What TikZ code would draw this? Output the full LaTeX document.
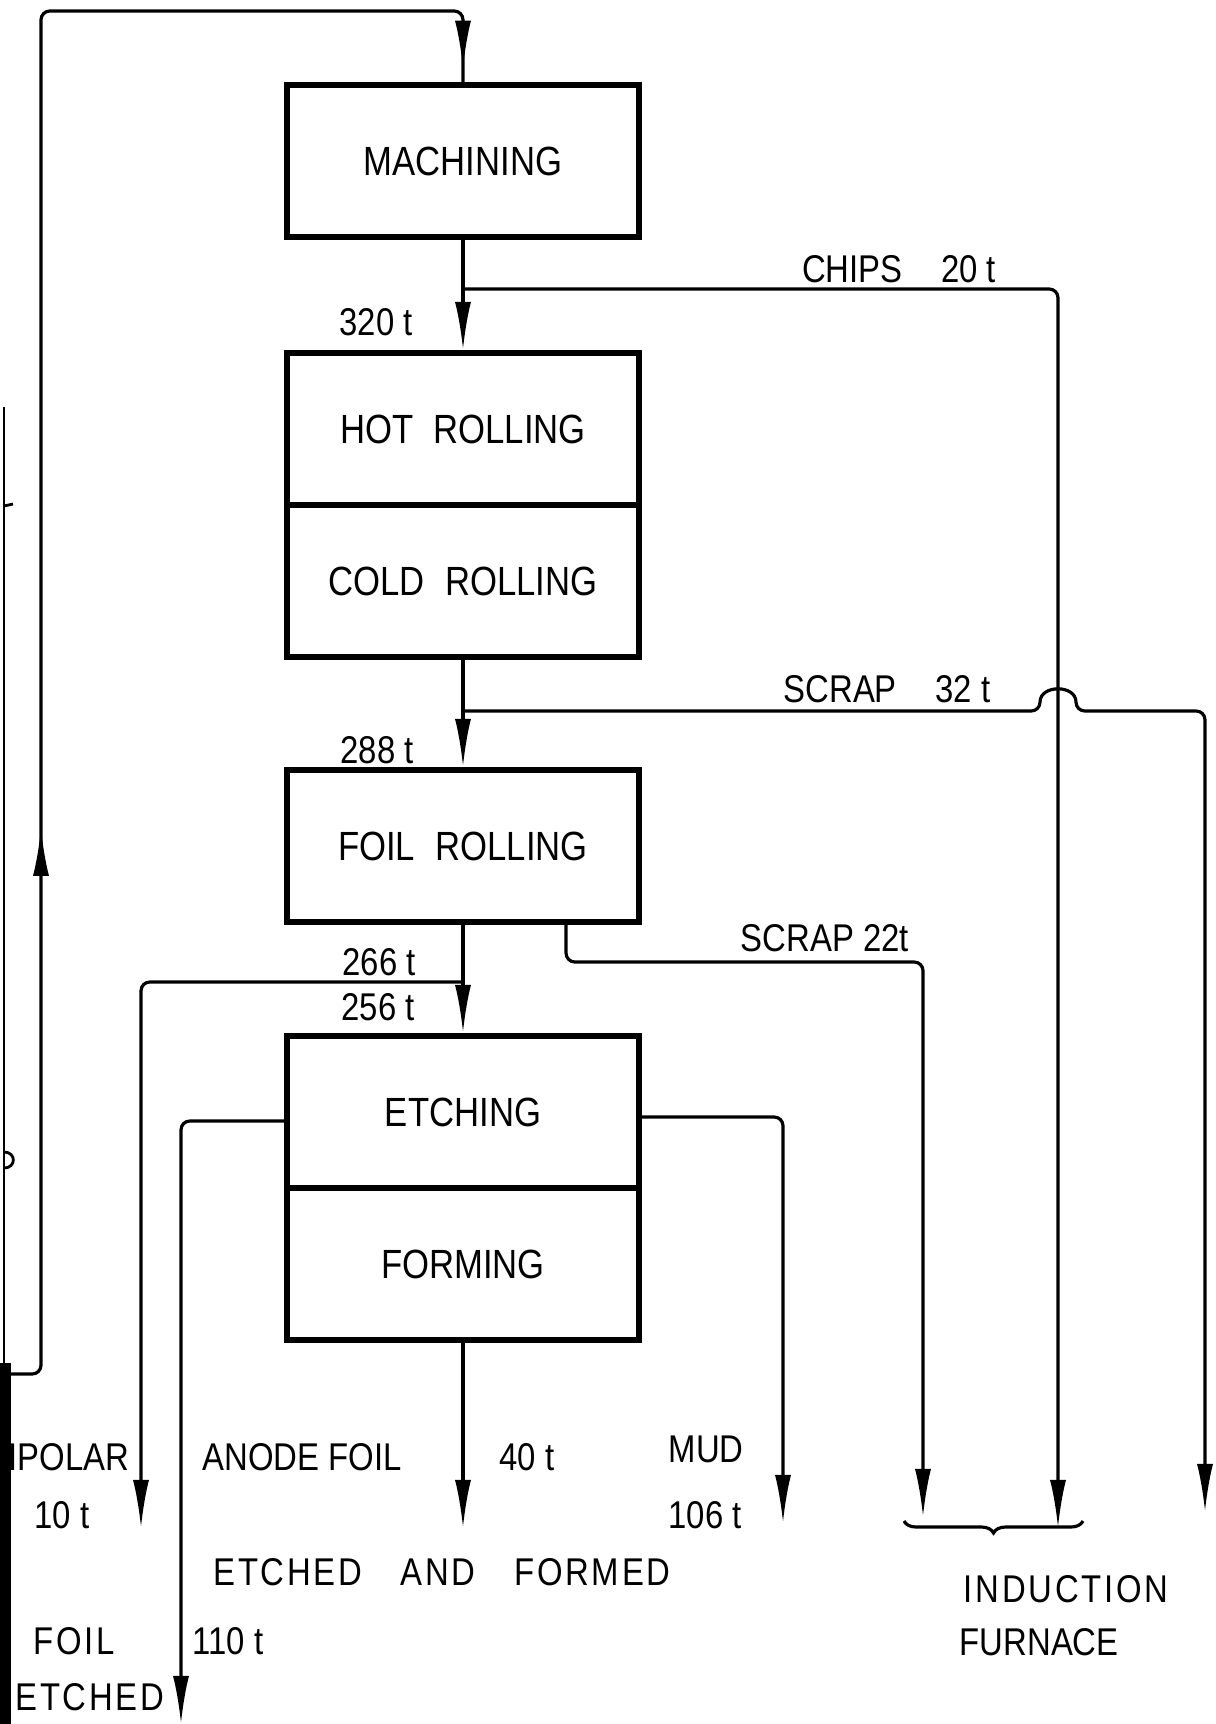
\documentclass[tikz,border=0pt]{standalone}
\usepackage{fontspec}
\setmainfont{Liberation Sans}[FakeStretch=0.85]
\newfontfamily\spacedfont{Liberation Sans}[FakeStretch=0.85,LetterSpace=7]
\usetikzlibrary{arrows.meta,decorations.markings,decorations.pathreplacing}
\tikzset{
  procbox/.style={draw,line width=1.7pt,minimum width=3.52cm,minimum height=1.52cm,font=\fontsize{11.6}{14}\selectfont},
  flow/.style={line width=0.9pt,rounded corners=2.5pt},
  arr/.style={-{Latex[length=4.8mm,width=1.6mm]}},
  lbl/.style={inner sep=0pt,font=\fontsize{11}{13}\selectfont},
  spaced/.style={inner sep=0pt,font=\spacedfont\fontsize{11}{13}\selectfont}
}
\begin{document}
\begin{tikzpicture}[x=0.01cm,y=-0.01cm]
\useasboundingbox (0,0) rectangle (1216,1724);
% boxes
\node[procbox](mach)at(463,161){MACHINING};
\node[procbox](hot)at(463,429){HOT\enspace ROLLING};
\node[procbox](cold)at(463,581){COLD\enspace ROLLING};
\node[procbox](foil)at(463,846){FOIL\enspace ROLLING};
\node[procbox](etch)at(463,1112){ETCHING};
\node[procbox](form)at(463,1264){FORMING};
% branch points and ends
\coordinate(loop)at(11,1374);
\coordinate(b1)at(463,289);
\coordinate(b2)at(463,711);
\coordinate(b3)at(463,982);
\coordinate(chips)at(1058,1528);
\coordinate(scrapa)at(1205,1512);
\coordinate(scrapb)at(923,1517);
\coordinate(bipolar)at(141,1528);
\coordinate(anode)at(181,1724);
\coordinate(mud)at(783,1523);
\coordinate(formed)at(463,1528);
% return line
\draw[flow,postaction={decorate},decoration={markings,
  mark=at position 5.72cm with {\arrow{Latex[length=4.8mm,width=1.6mm]}},
  mark=at position 18.6cm with {\arrow{Latex[length=4.8mm,width=1.6mm]}}}]
  (loop) -- (41,1374) -- (41,11) -- (463,11) -- (mach.north);
% main line
\draw[flow,arr] (mach.south) -- (hot.north);
\draw[flow,arr] (cold.south) -- (foil.north);
\draw[flow,arr] (foil.south) -- (etch.north);
\draw[flow,arr] (form.south) -- (formed);
% side streams
\draw[flow,arr] (b1) -| (chips);
\draw[flow,arr] (b2) -- (1040,711) to[out=90,in=90,looseness=1.9] (1076,711) -- (1205,711) -- (scrapa);
\draw[flow,arr] ([xshift=1.03cm]foil.south) |- (923,962) -- (scrapb);
\draw[flow,arr] (b3) -| (bipolar);
\draw[flow,arr] ([yshift=-0.09cm]etch.west) -| (anode);
\draw[flow,arr] ([yshift=-0.05cm]etch.east) -| (mud);
\draw[line width=0.9pt,decorate,decoration={brace,mirror,amplitude=0.12cm}] (904,1521) -- (1083,1521);
% labels
\node[lbl](l320)at(376,322){320 t};
\node[lbl](lchips)at(899,269){CHIPS\quad 20 t};
\node[lbl](lscrapa)at(887,689){SCRAP\quad 32 t};
\node[lbl](l288)at(377,750){288 t};
\node[lbl](lscrapb)at(825,938){SCRAP 22t};
\node[lbl](l266)at(379,962){266 t};
\node[lbl](l256)at(378,1007){256 t};
\node[lbl,anchor=east](lbip)at(130,1457){BIPOLAR};
\node[lbl](l10)at(62,1515){10 t};
\node[lbl](lanode)at(302,1457){ANODE FOIL};
\node[lbl](l40)at(527,1457){40 t};
\node[lbl,anchor=west](lmud)at(668,1449){MUD};
\node[lbl,anchor=west](l106)at(668,1515){106 t};
\node[spaced](lef)at(442,1572){ETCHED\quad AND\quad FORMED};
\node[spaced](lfoil)at(74,1641){FOIL};
\node[lbl,anchor=west](l110)at(192,1641){110 t};
\node[spaced,anchor=east](letched)at(165,1697){ETCHED};
\node[spaced](lind)at(1066,1589){INDUCTION};
\node[lbl,anchor=west](lfur)at(959,1642){FURNACE};
% cut edge on the left
\draw[line width=0.8pt] (4,407) -- (4,1363);
\draw[line width=0.8pt] (4,506) -- (13,504);
\draw[line width=0.8pt] (4,1152) to[out=0,in=0,looseness=2] (4,1168);
\fill (0,1363) rectangle (11,1724);
\end{tikzpicture}
\end{document}
